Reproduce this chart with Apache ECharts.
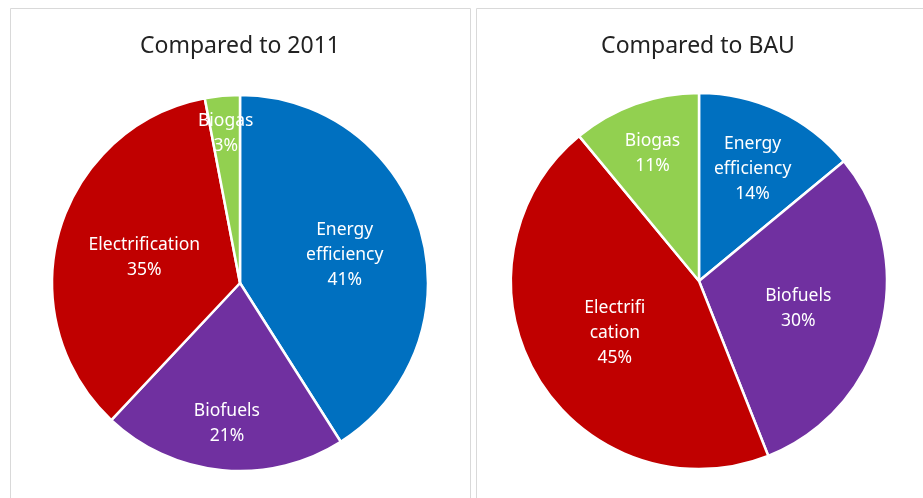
<!DOCTYPE html>
<html><head><meta charset="utf-8">
<script src="https://cdn.jsdelivr.net/npm/echarts@6/dist/echarts.min.js"></script>
<style>html,body{margin:0;padding:0;background:#fff}#c{width:923px;height:498px}</style>
</head><body><div id="c"></div>
<script>
var titles = ['Compared to 2011', 'Compared to BAU'];
var categories = ['Energy efficiency', 'Biofuels', 'Electrification', 'Biogas'];
var labels2011 = ['Energy\nefficiency', 'Biofuels', 'Electrification', 'Biogas'];
var labelsBAU = ['Energy\nefficiency', 'Biofuels', 'Electrifi\ncation', 'Biogas'];
var values2011 = [41, 21, 35, 3];
var valuesBAU = [14, 30, 45, 11];
var colors = ['#0070C0', '#7030A0', '#C00000', '#92D050'];

// layout (not data): pie centres, radius, and label distance as a fraction of radius
var centers = [[240, 283], [699, 281]];
var radius = 188;
var labelDist = [[0.58, 0.74, 0.53, 0.81], [0.67, 0.545, 0.52, 0.73]];
var allValues = [values2011, valuesBAU];

function mk(vals, labs) {
  return vals.map(function (v, i) {
    return { name: categories[i], value: v, labelText: labs[i], itemStyle: { color: colors[i] } };
  });
}
var chart = echarts.init(document.getElementById('c'));
var font = '"Noto Sans", sans-serif';
function series(si, labs) {
  var vals = allValues[si];
  return {
    type: 'pie', center: centers[si], radius: radius, startAngle: 90, clockwise: true,
    animation: false, silent: true,
    data: mk(vals, labs),
    itemStyle: { borderColor: '#fff', borderWidth: 2.5 },
    label: {
      show: true, position: 'inside', color: '#fff', fontFamily: font, fontSize: 17.5, lineHeight: 25,
      formatter: function (p) { return p.data.labelText + '\n' + p.value + '%'; }
    },
    labelLine: { show: false },
    labelLayout: function (p) {
      var total = 0, before = 0;
      for (var i = 0; i < vals.length; i++) { total += vals[i]; if (i < p.dataIndex) before += vals[i]; }
      var mid = (before + vals[p.dataIndex] / 2) / total * 2 * Math.PI;
      var r = radius * labelDist[si][p.dataIndex];
      return {
        x: centers[si][0] + Math.sin(mid) * r,
        y: centers[si][1] - Math.cos(mid) * r + 2,
        align: 'center', verticalAlign: 'middle'
      };
    }
  };
}
var titleStyle = { fontFamily: font, fontSize: 23, fontWeight: 'normal', color: '#222' };
chart.setOption({
  animation: false,
  title: [
    { text: titles[0], left: 235, top: 30, textAlign: 'center', textStyle: titleStyle },
    { text: titles[1], left: 693, top: 30, textAlign: 'center', textStyle: titleStyle }
  ],
  graphic: [
    { type: 'rect', shape: { x: 10.5, y: 8.5, width: 460, height: 520 }, style: { fill: 'none', stroke: '#d9d9d9', lineWidth: 1 } },
    { type: 'rect', shape: { x: 476.5, y: 8.5, width: 460, height: 520 }, style: { fill: 'none', stroke: '#d9d9d9', lineWidth: 1 } }
  ],
  series: [
    series(0, labels2011),
    series(1, labelsBAU)
  ]
});
</script></body></html>
